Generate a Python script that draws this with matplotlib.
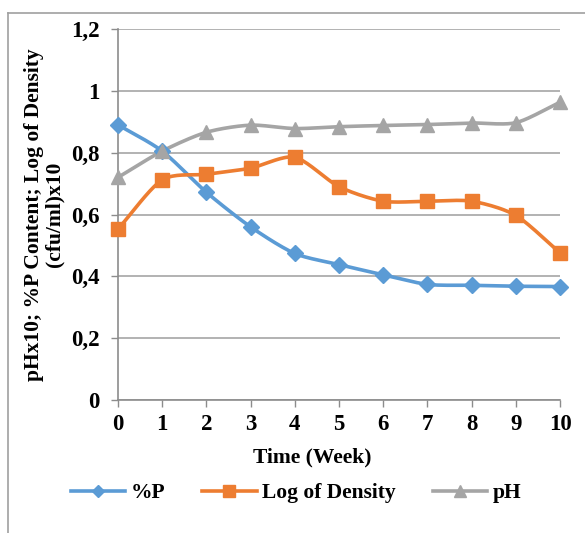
import numpy as np
import matplotlib
matplotlib.use('Agg')
import matplotlib.pyplot as plt
from matplotlib.lines import Line2D

plt.rcParams['font.family'] = ['Liberation Serif', 'DejaVu Serif']
plt.rcParams['font.weight'] = 'bold'

weeks = [0, 1, 2, 3, 4, 5, 6, 7, 8, 9, 10]
p_content = [0.89, 0.805, 0.672, 0.560, 0.474, 0.438, 0.405, 0.374, 0.371, 0.368, 0.367]
log_density = [0.553, 0.712, 0.730, 0.750, 0.785, 0.690, 0.643, 0.643, 0.643, 0.597, 0.476]
ph = [0.720, 0.805, 0.866, 0.889, 0.878, 0.884, 0.888, 0.891, 0.896, 0.897, 0.963]
y_ticks = [0, 0.2, 0.4, 0.6, 0.8, 1.0, 1.2]
y_labels = ['0', '0,2', '0,4', '0,6', '0,8', '1', '1,2']


def smooth(x, y, n=20):
    # catmull-rom style curve through the points, like excel's smoothed line
    x = np.asarray(x, float)
    y = np.asarray(y, float)
    px = np.concatenate([[2 * x[0] - x[1]], x, [2 * x[-1] - x[-2]]])
    py = np.concatenate([[2 * y[0] - y[1]], y, [2 * y[-1] - y[-2]]])
    xs, ys = [], []
    t = np.linspace(0, 1, n, endpoint=False)
    for i in range(1, len(px) - 2):
        for arr, out in ((px, xs), (py, ys)):
            p0, p1, p2, p3 = arr[i - 1], arr[i], arr[i + 1], arr[i + 2]
            m1 = (p2 - p0) / 2 * 0.8
            m2 = (p3 - p1) / 2 * 0.8
            h00 = 2 * t**3 - 3 * t**2 + 1
            h10 = t**3 - 2 * t**2 + t
            h01 = -2 * t**3 + 3 * t**2
            h11 = t**3 - t**2
            out.extend(h00 * p1 + h10 * m1 + h01 * p2 + h11 * m2)
    xs.append(x[-1])
    ys.append(y[-1])
    return xs, ys


fig = plt.figure(figsize=(5.85, 5.33), dpi=100)
ax = fig.add_axes([0.2017, 0.2495, 0.7556, 0.6961])

series = [
    ('%P', p_content, '#5B9BD5', 'D', 8),
    ('Log of Density', log_density, '#ED7D31', 's', 10),
    ('pH', ph, '#A5A5A5', '^', 10),
]
handles = []
for name, vals, col, mk, ms in series:
    sx, sy = smooth(weeks, vals)
    ax.plot(sx, sy, color=col, lw=2.6, solid_capstyle='round', zorder=3)
    ax.plot(weeks, vals, linestyle='none', marker=mk, color=col, ms=ms, zorder=4)
    handles.append(Line2D([], [], color=col, lw=2.6, marker=mk, ms=ms * 0.8))

ax.set_xlim(0, 10)
ax.set_ylim(0, 1.2)
ax.set_xticks(weeks)
ax.set_yticks(y_ticks)
ax.set_yticklabels(y_labels)
ax.tick_params(axis='both', labelsize=16.5, colors='#8c8c8c', labelcolor='black', length=5, width=1)
ax.tick_params(axis='x', pad=5)
ax.tick_params(axis='y', pad=8)
for lab in ax.get_xticklabels() + ax.get_yticklabels():
    lab.set_fontweight('bold')
ax.grid(axis='y', color='#a6a6a6', lw=1.2)
ax.set_axisbelow(True)
for s in ['top', 'right']:
    ax.spines[s].set_visible(False)
for s in ['left', 'bottom']:
    ax.spines[s].set_color('#8c8c8c')
    ax.spines[s].set_linewidth(1.2)
ax.margins(0)
for l in ax.lines:
    l.set_clip_on(False)

fig.text(312 / 585, 1 - 457 / 533, 'Time (Week)', ha='center', va='center',
         fontsize=15.5, fontweight='bold')
ax.set_ylabel('pHx10; %P Content; Log of Density\n(cfu/ml)x10', fontsize=15.5,
              fontweight='bold', labelpad=5, linespacing=1.0)

fig.legend(handles, [s[0] for s in series], loc='center', bbox_to_anchor=(296 / 585, 1 - 493 / 533),
           ncol=3, frameon=False, handlelength=2.55, columnspacing=1.7,
           handletextpad=0.25, prop={'weight': 'bold', 'size': 15.5})

# outer chart frame
fig.add_artist(Line2D([8 / 585, 8 / 585], [0, 1 - 13 / 533], color='#a0a0a0', lw=1.2,
                      transform=fig.transFigure))
fig.add_artist(Line2D([8 / 585, 1], [1 - 13 / 533, 1 - 13 / 533], color='#a0a0a0', lw=1.2,
                      transform=fig.transFigure))

fig.savefig('out.png', dpi=100)
